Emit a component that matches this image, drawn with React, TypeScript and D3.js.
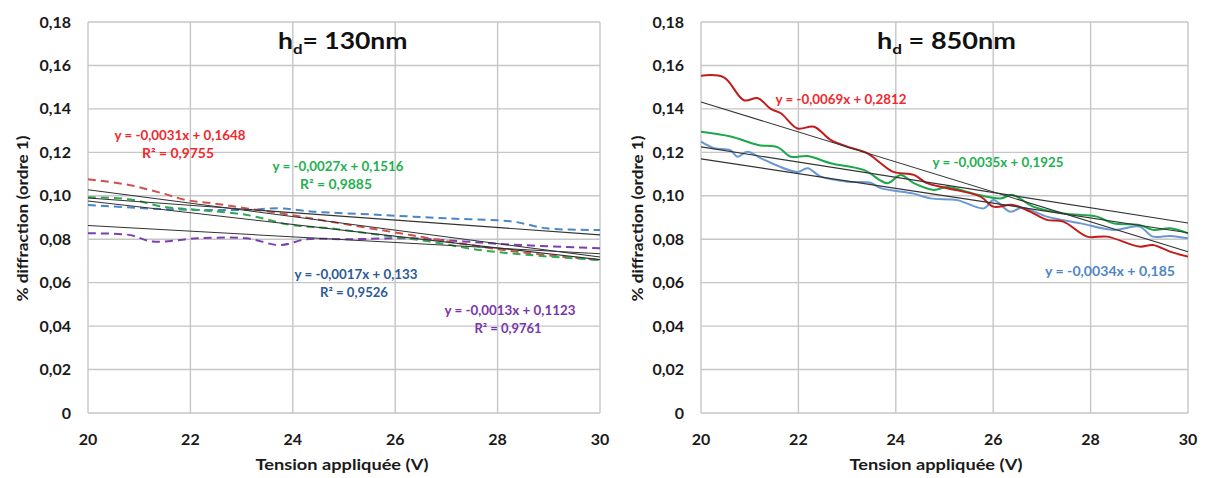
import React from "react";
import * as d3 from "d3";

// ---------- DATA ----------
const xTicks = [20, 22, 24, 26, 28, 30];
const yTicks = [0, 0.02, 0.04, 0.06, 0.08, 0.1, 0.12, 0.14, 0.16, 0.18];

// Left panel (h_d = 130nm), dashed series
const leftRedX = [20, 20.8, 21.46, 21.93, 22.45, 23.1, 23.95, 24.73, 25.7, 26.68, 27.66, 28.63, 30];
const leftRedY = [0.1076, 0.105, 0.1011, 0.098, 0.0965, 0.0942, 0.0912, 0.0881, 0.0843, 0.0804, 0.0766, 0.0735, 0.0704];
const leftGreenX = [20, 20.8, 21.46, 22.13, 23.1, 23.95, 24.73, 25.7, 26.68, 27.66, 28.63, 30];
const leftGreenY = [0.0993, 0.0984, 0.095, 0.0935, 0.0912, 0.0866, 0.085, 0.082, 0.0789, 0.075, 0.0727, 0.0704];
const leftBlueX = [20, 21.15, 22.13, 23.1, 23.75, 24.4, 25.7, 27.0, 28.3, 28.96, 30];
const leftBlueY = [0.0958, 0.0942, 0.0935, 0.0935, 0.0942, 0.0927, 0.0912, 0.0896, 0.0881, 0.085, 0.0843];
const leftPurpleX = [20, 20.8, 21.27, 22.13, 23.1, 23.75, 24.27, 25.06, 26.35, 27.33, 28.3, 30];
const leftPurpleY = [0.0827, 0.082, 0.0789, 0.0804, 0.0804, 0.0773, 0.08, 0.08, 0.0804, 0.079, 0.0775, 0.0758];

// Right panel (h_d = 850nm), solid series
const rightRedX = [20, 20.47, 20.88, 21.17, 21.43, 21.64, 21.98, 22.32, 22.66, 23.0, 23.41, 23.69, 23.95, 24.37, 24.64, 25.06, 25.74, 26.0, 26.4, 26.76, 27.1, 27.44, 27.93, 28.34, 29.0, 29.28, 29.63, 30];
const rightRedY = [0.1553, 0.1545, 0.144, 0.1449, 0.14, 0.138, 0.131, 0.1318, 0.1257, 0.1226, 0.1196, 0.115, 0.111, 0.1096, 0.1058, 0.1035, 0.0996, 0.095, 0.0958, 0.0927, 0.0889, 0.0881, 0.0812, 0.0812, 0.0766, 0.0773, 0.0743, 0.072];
const rightGreenX = [20, 20.61, 21.17, 21.58, 21.84, 22.19, 22.66, 23.34, 23.83, 24.1, 24.37, 24.78, 25.06, 25.6, 26.15, 26.4, 26.82, 27.44, 28.13, 28.47, 29.0, 29.28, 29.63, 30];
const rightGreenY = [0.1295, 0.1273, 0.1234, 0.1223, 0.118, 0.1183, 0.115, 0.1119, 0.1058, 0.1096, 0.1058, 0.1027, 0.104, 0.101, 0.0988, 0.1004, 0.095, 0.0919, 0.0904, 0.0873, 0.0866, 0.0843, 0.085, 0.0827];
const rightBlueX = [20, 20.27, 20.6, 20.75, 20.95, 21.3, 21.98, 22.19, 22.46, 23.0, 23.48, 23.69, 24.37, 24.71, 25.26, 25.81, 26.0, 26.35, 26.6, 27.1, 27.8, 28.47, 29.0, 29.28, 29.63, 30];
const rightBlueY = [0.1249, 0.1219, 0.121, 0.118, 0.1203, 0.1165, 0.111, 0.1127, 0.1088, 0.1065, 0.106, 0.1035, 0.101, 0.0988, 0.098, 0.0942, 0.098, 0.0927, 0.0945, 0.0904, 0.0873, 0.0843, 0.0858, 0.0812, 0.0815, 0.0804];

// Trendlines: slope, intercept
const leftTrendSlopes = [-0.0031, -0.0027, -0.0017, -0.0013];
const leftTrendIntercepts = [0.1648, 0.1516, 0.133, 0.1123];
const rightTrendSlopes = [-0.0069, -0.0035, -0.0034];
const rightTrendIntercepts = [0.2812, 0.1925, 0.185];

// Labels
const leftEquations = ["y = -0,0031x + 0,1648", "y = -0,0027x + 0,1516", "y = -0,0017x + 0,133", "y = -0,0013x + 0,1123"];
const leftR2 = ["R² = 0,9755", "R² = 0,9885", "R² = 0,9526", "R² = 0,9761"];
const rightEquations = ["y = -0,0069x + 0,2812", "y = -0,0035x + 0,1925", "y = -0,0034x + 0,185"];
const yAxisTitle = "% diffraction (ordre 1)";
const xAxisTitle = "Tension appliquée (V)";

const FONT = "Lato, 'Open Sans', sans-serif";

type Series = { xs: number[]; ys: number[]; color: string; dashed: boolean };
type Ann = { eq: string; eqW: number; r2?: string; r2W?: number; x: number; y: number; color: string };

function Panel(props: {
  left: number; right: number; top: number; bottom: number;
  series: Series[]; slopes: number[]; intercepts: number[];
  title: string; titleX: number; titleW: number; anns: Ann[]; yTitleX: number; xTitleX: number;
}) {
  const { left, right, top, bottom, series, slopes, intercepts, title, titleX, titleW, anns, yTitleX, xTitleX } = props;
  const x = d3.scaleLinear().domain([20, 30]).range([left, right]);
  const y = d3.scaleLinear().domain([0, 0.18]).range([bottom, top]);
  const line = d3.line<[number, number]>().x(d => x(d[0])).y(d => y(d[1])).curve(d3.curveCatmullRom.alpha(0.5));
  const fmt = (v: number) => (v === 0 ? "0" : d3.format(".2f")(v).replace(".", ","));
  return (
    <g>
      {yTicks.map(t => (
        <line key={"h" + t} x1={left} x2={right} y1={y(t)} y2={y(t)} stroke="#c6c6c6" strokeWidth={1.4} />
      ))}
      {xTicks.map(t => (
        <line key={"v" + t} x1={x(t)} x2={x(t)} y1={top} y2={bottom} stroke="#c6c6c6" strokeWidth={1.4} />
      ))}
      {yTicks.map(t => (
        <text key={"yl" + t} x={left - 17} y={y(t) + 5.5} textAnchor="end" fontSize={16} fontWeight="bold" fontFamily={FONT} fill="#1a1a1a">{fmt(t)}</text>
      ))}
      {xTicks.map(t => (
        <text key={"xl" + t} x={x(t)} y={bottom + 32} textAnchor="middle" fontSize={16} fontWeight="bold" fontFamily={FONT} fill="#1a1a1a">{t}</text>
      ))}
      {series.map((s, i) => (
        <path key={"s" + i} d={line(s.xs.map((v, j) => [v, s.ys[j]] as [number, number])) || ""} fill="none" stroke={s.color} strokeWidth={2} strokeDasharray={s.dashed ? "8,5" : undefined} />
      ))}
      {slopes.map((m, i) => (
        <line key={"t" + i} x1={x(20)} x2={x(30)} y1={y(m * 20 + intercepts[i])} y2={y(m * 30 + intercepts[i])} stroke="#333" strokeWidth={1.1} />
      ))}
      {anns.map((a, i) => (
        <g key={"a" + i}>
          <text x={a.x} y={a.y} textAnchor="middle" fontSize={12.5} fontWeight="bold" fontFamily={FONT} fill={a.color} textLength={a.eqW} lengthAdjust="spacingAndGlyphs">{a.eq}</text>
          {a.r2 && <text x={a.x - 2} y={a.y + 18} textAnchor="middle" fontSize={12.5} fontWeight="bold" fontFamily={FONT} fill={a.color} textLength={a.r2W} lengthAdjust="spacingAndGlyphs">{a.r2}</text>}
        </g>
      ))}
      <g transform={`translate(${titleX},49) scale(${titleW / 108},1)`}>
        <text x={0} y={0} textAnchor="start" fontSize={22} fontWeight="bold" fontFamily={FONT} fill="#111">
          h<tspan fontSize={14} dy={5}>d</tspan><tspan dy={-5}>{title}</tspan>
        </text>
      </g>
      <text transform={`translate(${yTitleX},${(top + bottom) / 2 + 1}) rotate(-90)`} textAnchor="middle" fontSize={14.5} fontWeight="bold" fontFamily={FONT} fill="#1a1a1a" textLength={166} lengthAdjust="spacingAndGlyphs">{yAxisTitle}</text>
      <text x={xTitleX} y={bottom + 57} textAnchor="middle" fontSize={15} fontWeight="bold" fontFamily={FONT} fill="#1a1a1a" textLength={173} lengthAdjust="spacingAndGlyphs">{xAxisTitle}</text>
    </g>
  );
}

export default function App() {
  const leftSeries: Series[] = [
    { xs: leftBlueX, ys: leftBlueY, color: "#4a86c8", dashed: true },
    { xs: leftPurpleX, ys: leftPurpleY, color: "#7b3fb0", dashed: true },
    { xs: leftRedX, ys: leftRedY, color: "#d0504a", dashed: true },
    { xs: leftGreenX, ys: leftGreenY, color: "#2eaa55", dashed: true },
  ];
  const rightSeries: Series[] = [
    { xs: rightBlueX, ys: rightBlueY, color: "#6a98d4", dashed: false },
    { xs: rightGreenX, ys: rightGreenY, color: "#1aa84a", dashed: false },
    { xs: rightRedX, ys: rightRedY, color: "#c41a1a", dashed: false },
  ];
  const leftAnns: Ann[] = [
    { eq: leftEquations[0], eqW: 131, r2: leftR2[0], r2W: 72, x: 180, y: 140, color: "#f0282d" },
    { eq: leftEquations[1], eqW: 131, r2: leftR2[1], r2W: 72, x: 338, y: 171, color: "#1fb050" },
    { eq: leftEquations[2], eqW: 123, r2: leftR2[2], r2W: 68, x: 356, y: 279, color: "#2c5a96" },
    { eq: leftEquations[3], eqW: 131, r2: leftR2[3], r2W: 67, x: 510, y: 315, color: "#7a35ab" },
  ];
  const rightAnns: Ann[] = [
    { eq: rightEquations[0], eqW: 131, x: 841, y: 104, color: "#f0282d" },
    { eq: rightEquations[1], eqW: 131, x: 998, y: 167, color: "#1fb050" },
    { eq: rightEquations[2], eqW: 130, x: 1110, y: 276, color: "#4f86c6" },
  ];
  return (
    <svg width={1205} height={478} style={{ display: "block", position: "absolute", left: 0, top: 0, background: "#fff" }}>
      <rect x={0} y={0} width={1205} height={478} fill="#fff" />
      <Panel left={88} right={600} top={22} bottom={413} series={leftSeries}
        slopes={leftTrendSlopes} intercepts={leftTrendIntercepts} title="= 130nm" titleX={278} titleW={130} anns={leftAnns}
        yTitleX={28} xTitleX={342} />
      <Panel left={701} right={1188} top={22} bottom={413} series={rightSeries}
        slopes={rightTrendSlopes} intercepts={rightTrendIntercepts} title=" = 850nm" titleX={877} titleW={133} anns={rightAnns}
        yTitleX={643} xTitleX={936} />
    </svg>
  );
}
